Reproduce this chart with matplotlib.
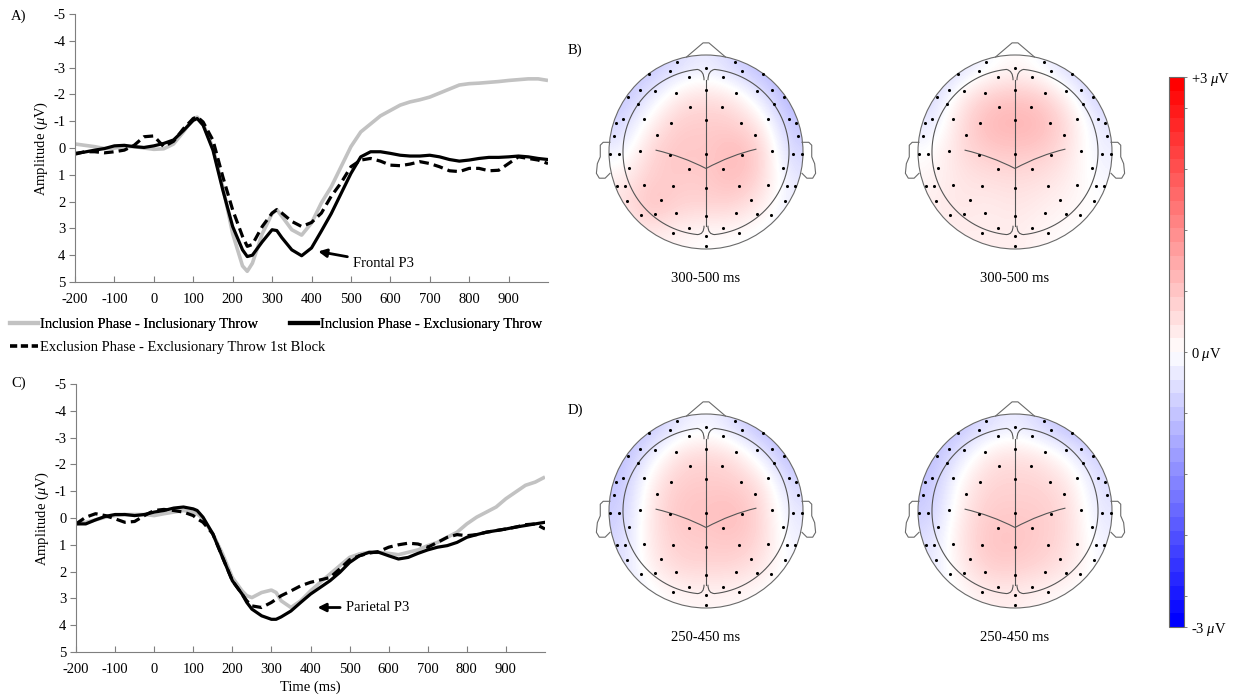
import numpy as np
import matplotlib
matplotlib.use("Agg")
import matplotlib.pyplot as plt
from matplotlib.patches import Circle, PathPatch
from matplotlib.path import Path
from matplotlib.colors import Normalize
from matplotlib.cm import ScalarMappable

plt.rcParams['font.family'] = ['Liberation Serif', 'DejaVu Serif']
plt.rcParams['mathtext.fontset'] = 'custom'
plt.rcParams['mathtext.rm'] = 'Liberation Serif'
plt.rcParams['mathtext.it'] = 'Liberation Serif:italic'
plt.rcParams['axes.unicode_minus'] = False

# ERP waveforms (uV)
time_ms = [-200, -175, -150, -125, -100, -75, -50, -25, 0, 25, 50, 75, 100, 110, 125,
           150, 175, 200, 225, 237, 250, 275, 300, 312, 325, 350, 375, 400, 425, 450,
           475, 500, 525, 550, 575, 600, 625, 650, 675, 700, 725, 750, 775, 800, 825,
           850, 875, 900, 925, 950, 975, 1000]

frontal_incl_incl = [-0.15, -0.1, -0.05, 0.02, 0.0, -0.05, -0.05, 0.0, 0.05, 0.03, -0.15, -0.6, -1.1, -1.15, -0.9,
                     0.0, 1.45, 3.2, 4.4, 4.6, 4.3, 3.2, 2.45, 2.3, 2.55, 3.05, 3.25, 2.8, 2.05, 1.45,
                     0.7, -0.05, -0.6, -0.9, -1.2, -1.4, -1.6, -1.72, -1.8, -1.9, -2.05, -2.2, -2.35, -2.4, -2.42,
                     -2.45, -2.48, -2.52, -2.55, -2.58, -2.58, -2.52]
frontal_incl_excl = [0.2, 0.15, 0.08, 0.02, -0.08, -0.1, -0.05, -0.02, -0.08, -0.17, -0.3, -0.65, -1.03, -1.1, -0.85,
                     0.08, 1.57, 2.93, 3.8, 4.05, 4.0, 3.5, 3.05, 3.08, 3.35, 3.8, 4.02, 3.73, 3.1, 2.45,
                     1.7, 0.95, 0.33, 0.14, 0.14, 0.2, 0.27, 0.3, 0.3, 0.27, 0.33, 0.43, 0.49, 0.45, 0.39,
                     0.35, 0.35, 0.33, 0.3, 0.33, 0.39, 0.43]
frontal_excl_excl = [0.23, 0.14, 0.14, 0.18, 0.14, 0.08, -0.1, -0.42, -0.45, -0.05, -0.25, -0.72, -1.1, -1.16, -0.97,
                     -0.29, 1.07, 2.31, 3.3, 3.67, 3.6, 2.93, 2.43, 2.3, 2.43, 2.74, 2.93, 2.78, 2.43, 1.8,
                     1.3, 0.7, 0.45, 0.39, 0.49, 0.64, 0.66, 0.6, 0.51, 0.58, 0.7, 0.85, 0.88, 0.76, 0.76,
                     0.85, 0.83, 0.58, 0.33, 0.39, 0.45, 0.58]

parietal_incl_incl = [0.22, 0.16, 0.07, -0.03, -0.09, -0.13, -0.13, -0.13, -0.09, -0.16, -0.22, -0.28, -0.22, -0.16, 0.03,
                      0.59, 1.34, 2.22, 2.72, 2.9, 2.97, 2.78, 2.69, 2.78, 3.09, 3.34, 3.09, 2.72, 2.4, 2.09,
                      1.78, 1.47, 1.34, 1.28, 1.28, 1.32, 1.37, 1.28, 1.19, 1.03, 0.91, 0.72, 0.53, 0.22, -0.03,
                      -0.22, -0.41, -0.72, -0.97, -1.22, -1.34, -1.53]
parietal_incl_excl = [0.22, 0.22, 0.07, -0.06, -0.13, -0.13, -0.09, -0.13, -0.22, -0.28, -0.37, -0.41, -0.34, -0.28, -0.03,
                      0.59, 1.47, 2.34, 2.84, 3.15, 3.4, 3.65, 3.78, 3.78, 3.69, 3.47, 3.15, 2.84, 2.59, 2.34,
                      2.03, 1.66, 1.41, 1.28, 1.28, 1.41, 1.53, 1.47, 1.32, 1.19, 1.09, 1.03, 0.91, 0.72, 0.62,
                      0.53, 0.47, 0.41, 0.34, 0.28, 0.22, 0.16]
parietal_excl_excl = [0.22, -0.03, -0.16, -0.09, 0.03, 0.16, 0.13, -0.09, -0.28, -0.32, -0.28, -0.22, -0.09, 0.03, 0.16,
                      0.59, 1.47, 2.34, 2.84, 3.09, 3.28, 3.34, 3.15, 3.03, 2.9, 2.72, 2.53, 2.4, 2.31, 2.22,
                      1.9, 1.56, 1.41, 1.31, 1.25, 1.09, 1.0, 0.94, 0.97, 1.09, 0.91, 0.72, 0.62, 0.66, 0.62,
                      0.53, 0.47, 0.41, 0.34, 0.25, 0.22, 0.41]

legend_labels = ['Inclusion Phase - Inclusionary Throw',
                 'Inclusion Phase - Exclusionary Throw',
                 'Exclusion Phase - Exclusionary Throw 1st Block']

# scalp maps: coarse 7x7 grids (rows top->bottom, cols left->right), uV
map_b_left = [[-0.6, -0.7, -0.4, -0.2, -0.5, -0.8, -0.9],
              [-0.7, -0.3, 0.3, 0.4, 0.3, -0.3, -0.9],
              [-0.5, 0.2, 0.6, 0.6, 0.6, 0.3, -0.7],
              [-0.2, 0.5, 0.7, 0.6, 0.85, 0.6, -0.5],
              [0.2, 0.6, 0.6, 0.6, 0.8, 0.5, -0.3],
              [0.3, 0.8, 0.5, 0.5, 0.5, 0.2, -0.2],
              [0.1, 0.2, 0.1, 0.0, 0.0, -0.1, -0.2]]
map_b_right = [[-0.6, -0.4, -0.1, 0.1, -0.1, -0.5, -0.6],
               [-0.5, 0.2, 0.6, 0.7, 0.6, 0.1, -0.6],
               [-0.3, 0.4, 0.85, 0.9, 0.85, 0.4, -0.3],
               [0.0, 0.4, 0.6, 0.65, 0.6, 0.3, -0.2],
               [0.1, 0.3, 0.35, 0.4, 0.35, 0.2, -0.1],
               [0.2, 0.3, 0.2, 0.3, 0.2, 0.1, 0.0],
               [0.1, 0.2, 0.2, 0.2, 0.1, 0.0, 0.0]]
map_d_left = [[-0.8, -0.7, -0.3, -0.1, -0.4, -0.8, -0.9],
              [-0.8, -0.2, 0.4, 0.5, 0.4, -0.2, -0.8],
              [-0.7, 0.2, 0.6, 0.6, 0.6, 0.4, -0.5],
              [-0.6, 0.3, 0.7, 0.7, 0.8, 0.5, -0.3],
              [-0.5, 0.3, 0.6, 0.6, 0.7, 0.5, -0.2],
              [-0.4, 0.2, 0.5, 0.5, 0.5, 0.3, -0.1],
              [-0.3, -0.1, 0.1, 0.1, 0.1, 0.0, -0.1]]
map_d_right = [[-0.8, -0.7, -0.4, -0.2, -0.5, -0.8, -0.8],
               [-0.8, -0.3, 0.3, 0.4, 0.3, -0.1, -0.6],
               [-0.7, 0.1, 0.5, 0.5, 0.5, 0.3, -0.4],
               [-0.6, 0.2, 0.6, 0.6, 0.6, 0.4, -0.3],
               [-0.4, 0.3, 0.7, 0.7, 0.6, 0.4, -0.2],
               [-0.3, 0.2, 0.6, 0.6, 0.5, 0.3, -0.1],
               [-0.2, 0.0, 0.2, 0.2, 0.1, 0.0, -0.1]]

# electrode layout (head radius = 1), left hemisphere mirrored to the right
elec_left_x = [-0.30, -0.37, -0.18, -0.59, -0.68, -0.53, -0.31, -0.16, -0.80, -0.70, -0.36,
               -0.64, -0.86, -0.93, -0.51, -0.95, -0.68, -0.90, -0.99, -0.37, -0.18, -0.79,
               -0.34, -0.64, -0.92, -0.84, -0.81, -0.46, -0.31, -0.53, -0.67, -0.18, -0.34]
elec_left_y = [0.93, 0.83, 0.77, 0.80, 0.64, 0.63, 0.61, 0.46, 0.57, 0.49, 0.30,
               0.34, 0.34, 0.30, 0.18, 0.17, 0.01, -0.02, -0.02, -0.03, -0.18, -0.17,
               -0.35, -0.34, -0.35, -0.35, -0.50, -0.49, -0.63, -0.64, -0.65, -0.78, -0.83]
elec_mid_y = [0.87, 0.64, 0.33, -0.02, -0.37, -0.66, -0.87, -0.97]

W, H = 1244, 700
fig = plt.figure(figsize=(W / 100, H / 100), dpi=100)

grey = '#c2c2c2'
spine_col = '#7f7f7f'


def erp_axes(rect, a, b, c):
    ax = fig.add_axes(rect)
    ax.plot(time_ms, a, color=grey, lw=2.6, solid_capstyle='butt')
    ax.plot(time_ms, b, color='black', lw=2.3, solid_joinstyle='round')
    ax.plot(time_ms, c, color='black', lw=2.3, ls=(0, (3, 1.6)))
    ax.set_xlim(-200, 1000)
    ax.set_ylim(5, -5)
    ax.set_xticks(np.arange(-200, 1000, 100))
    ax.set_yticks(np.arange(-5, 6, 1))
    for s in ['top', 'right']:
        ax.spines[s].set_visible(False)
    for s in ['left', 'bottom']:
        ax.spines[s].set_color(spine_col)
    ax.tick_params(axis='x', direction='in', length=4, color=spine_col, labelsize=10.5, pad=8)
    ax.tick_params(axis='y', direction='out', length=4, color=spine_col, labelsize=10.5, pad=3)
    ax.set_ylabel(r'Amplitude ($\mu$V)', fontsize=10.5, labelpad=2)
    return ax


axA = erp_axes([75 / W, 1 - 282 / H, 473 / W, 268 / H],
               frontal_incl_incl, frontal_incl_excl, frontal_excl_excl)
axA.annotate('Frontal P3', xy=(417, 3.86), xytext=(505, 4.3), fontsize=10.5, va='center',
             arrowprops=dict(arrowstyle='-|>', color='black', lw=2, mutation_scale=12,
                             shrinkA=2, shrinkB=0))

axC = erp_axes([76 / W, 1 - 652 / H, 469 / W, 268 / H],
               parietal_incl_incl, parietal_incl_excl, parietal_excl_excl)
axC.annotate('Parietal P3', xy=(418, 3.34), xytext=(490, 3.34), fontsize=10.5, va='center',
             arrowprops=dict(arrowstyle='-|>', color='black', lw=2, mutation_scale=12,
                             shrinkA=2, shrinkB=0))
axC.set_xlabel('Time (ms)', fontsize=10.5, labelpad=3)

# legend: first row two entries, second row one entry
h_grey, = axA.plot([], [], color=grey, lw=3)
h_black, = axA.plot([], [], color='black', lw=3)
h_dash, = axA.plot([], [], color='black', lw=2.6, ls=(0, (2, 1)))
leg_kw = dict(loc='upper left', frameon=False, fontsize=10.5, handlelength=1.9,
              handletextpad=0.15, borderpad=0, borderaxespad=0)
leg1 = fig.legend([h_grey, h_black], legend_labels[:2], ncol=2, columnspacing=2.2,
                  bbox_to_anchor=(10 / W, 1 - 318 / H), **leg_kw)
fig.add_artist(leg1)
fig.legend([h_dash], legend_labels[2:], bbox_to_anchor=(10 / W, 1 - 341 / H), **leg_kw)

# panel letters
fig.text(11 / W, 1 - 16 / H, 'A)', fontsize=10.5, va='center')
fig.text(568 / W, 1 - 50 / H, 'B)', fontsize=10.5, va='center')
fig.text(11 / W, 1 - 383 / H, 'C)', fontsize=10.5, va='center')
fig.text(568 / W, 1 - 410 / H, 'D)', fontsize=10.5, va='center')

cmap_maps = plt.get_cmap('bwr')
R_px = 97
head_lc = '#555555'


def hemi_path(sign):
    # brain outline of one hemisphere
    th = np.radians(np.linspace(96, 264, 60))
    r = 0.856
    xs = list(r * np.cos(th))
    ys = list(r * np.sin(th))
    verts = [(-0.02, 0.74), (-0.02, 0.84), (xs[0], ys[0])]
    codes = [Path.MOVETO, Path.CURVE3, Path.CURVE3]
    for x, y in zip(xs[1:], ys[1:]):
        verts.append((x, y))
        codes.append(Path.LINETO)
    verts += [(-0.02, -0.85), (-0.02, -0.76)]
    codes += [Path.CURVE3, Path.CURVE3]
    verts = [(sign * -x, y) if sign > 0 else (x, y) for x, y in verts]
    return Path(verts, codes)


def scalp_map(cx, cy, grid, label):
    size = 2.5 * R_px
    ax = fig.add_axes([(cx - size / 2) / W, 1 - (cy + size / 2) / H, size / W, size / H])
    ax.set_xlim(-1.25, 1.25)
    ax.set_ylim(-1.25, 1.25)
    ax.axis('off')
    im = ax.imshow(np.array(grid), extent=(-1, 1, -1, 1), cmap=cmap_maps, vmin=-3, vmax=3,
                   interpolation='bicubic', origin='upper')
    im.set_clip_path(Circle((0, 0), 1, transform=ax.transData))
    ax.add_patch(Circle((0, 0), 1, fill=False, ec='#6a6a6a', lw=0.8))
    # nose and ears
    ax.plot([-0.2, -0.03, 0.03, 0.2], [0.98, 1.125, 1.125, 0.98], color='#6a6a6a', lw=0.8)
    ear_x = [-0.99, -1.06, -1.09, -1.09, -1.12, -1.13, -1.10, -1.04, -0.99]
    ear_y = [0.10, 0.10, 0.07, -0.05, -0.12, -0.22, -0.27, -0.27, -0.22]
    ax.plot(ear_x, ear_y, color='#6a6a6a', lw=0.8)
    ax.plot([-x for x in ear_x], ear_y, color='#6a6a6a', lw=0.8)
    # brain outline
    ax.add_patch(PathPatch(hemi_path(-1), fill=False, ec=head_lc, lw=0.8))
    ax.add_patch(PathPatch(hemi_path(1), fill=False, ec=head_lc, lw=0.8))
    ax.plot([0, 0], [0.74, -0.76], color=head_lc, lw=0.8)
    ax.add_patch(PathPatch(Path([(-0.52, 0.02), (-0.24, -0.045), (0, -0.17)],
                                [Path.MOVETO, Path.CURVE3, Path.CURVE3]), fill=False, ec=head_lc, lw=0.8))
    ax.add_patch(PathPatch(Path([(0, -0.17), (0.26, -0.03), (0.52, 0.03)],
                                [Path.MOVETO, Path.CURVE3, Path.CURVE3]), fill=False, ec=head_lc, lw=0.8))
    ex = elec_left_x + [-x for x in elec_left_x] + [0] * len(elec_mid_y)
    ey = elec_left_y + elec_left_y + elec_mid_y
    ax.scatter(ex, ey, s=5, color='black', zorder=5, lw=0)
    ax.text(0, -1.3, label, ha='center', va='center', fontsize=10.5, clip_on=False)
    return ax


scalp_map(706, 152, map_b_left, '300-500 ms')
scalp_map(1015, 152, map_b_right, '300-500 ms')
scalp_map(706, 511, map_d_left, '250-450 ms')
scalp_map(1015, 511, map_d_right, '250-450 ms')

# colour bar
cax = fig.add_axes([1169 / W, 1 - 627 / H, 15 / W, 550 / H])
sm = ScalarMappable(norm=Normalize(-3, 3), cmap=plt.get_cmap('bwr', 40))
cb = fig.colorbar(sm, cax=cax)
cb.outline.set_edgecolor('#6a6a6a')
cb.outline.set_linewidth(0.8)
cb_ticks = [-3, -8 / 3, -2, -4 / 3, -2 / 3, 0, 2 / 3, 4 / 3, 2, 8 / 3, 3]
cb_labels = ['-3 $\\mu$V', '', '', '', '', '0 $\\mu$V', '', '', '', '', '+3 $\\mu$V']
cb.set_ticks(cb_ticks)
cb.set_ticklabels(cb_labels)
cax.tick_params(length=2, width=0.6, color='#6a6a6a', labelsize=10.5, pad=3)

fig.savefig('out.png', dpi=100)
